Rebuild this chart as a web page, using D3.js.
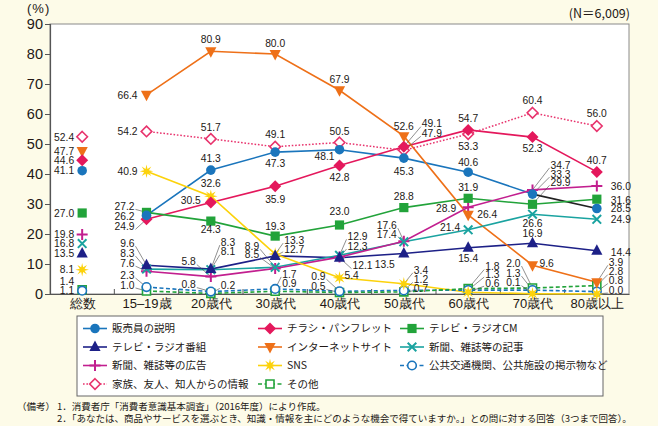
<!DOCTYPE html>
<html><head><meta charset="utf-8">
<script src="https://cdn.jsdelivr.net/npm/d3@7"></script>
<style>
html,body{margin:0;padding:0;background:#fdfbe8;}
svg{display:block;font-family:"Noto Sans CJK JP","Noto Sans",sans-serif;}
</style></head>
<body><svg id="c" width="658" height="426"></svg>
<script>
// ---------- data ----------
const categories = ["総数","15–19歳","20歳代","30歳代","40歳代","50歳代","60歳代","70歳代","80歳以上"];
const yTicks = [0,10,20,30,40,50,60,70,80,90];
const seriesNames = ["販売員の説明","チラシ・パンフレット","テレビ・ラジオCM","テレビ・ラジオ番組","インターネットサイト","新聞、雑誌等の記事","新聞、雑誌等の広告","SNS","家族、友人、知人からの情報","公共交通機関、公共施設の掲示物など","その他"];
const salesStaff    = [41.1,26.2,41.3,47.3,48.1,45.3,40.6,33.3,28.5];
const flyers        = [44.6,24.9,30.5,35.9,42.8,49.1,54.7,52.3,40.7];
const tvCM          = [27.0,27.2,24.3,19.3,23.0,28.8,31.9,29.9,31.6];
const tvProgram     = [13.5,9.6,8.3,12.7,12.1,13.5,15.4,16.9,14.4];
const internet      = [47.7,66.4,80.9,80.0,67.9,52.6,26.4,9.6,3.9];
const pressArticle  = [16.8,8.3,8.1,8.9,12.9,17.4,21.4,26.6,24.9];
const pressAd       = [19.8,7.6,5.8,8.5,12.3,17.6,28.9,34.7,36.0];
const sns           = [8.1,40.9,32.6,13.3,5.4,3.4,0.6,0.1,0.0];
const family        = [52.4,54.2,51.7,49.1,50.5,47.9,53.3,60.4,56.0];
const publicPosters = [1.1,2.3,0.8,1.7,0.9,1.2,1.3,1.3,0.8];
const other         = [1.4,1.0,0.2,0.9,0.5,0.7,1.8,2.0,2.8];
const seriesValues = [salesStaff,flyers,tvCM,tvProgram,internet,pressArticle,pressAd,sns,family,publicPosters,other];

// ---------- styles ----------
const styles = [
  {color:"#1a75bc", marker:"circle"},
  {color:"#e4185c", marker:"diamond"},
  {color:"#22a33a", marker:"square"},
  {color:"#1d2087", marker:"triUp"},
  {color:"#ee7018", marker:"triDown"},
  {color:"#1aa3a0", marker:"x"},
  {color:"#c21f8f", marker:"plus"},
  {color:"#fcd20b", marker:"star"},
  {color:"#e8336d", marker:"openDiamond", dash:"1.6,1.8"},
  {color:"#1a75bc", marker:"openCircle", dash:"4,2.5"},
  {color:"#22a33a", marker:"openSquare", dash:"4,2.5"}
];
// label placement: anchor(e/m/s) dx,dy  [L = leader line]
const labelLayout = [
  ["e-8,0","e-12,1","m0,-12","m0,11","e-5,7","m0,13","m0,-10","s18,-20L","s14,0"],
  ["e-8,0","e-12,7L","e-10,-2","m0,13","m0,12","s18,-23L","m0,-12","m0,11","m0,-12"],
  ["e-8,0","e-12,-6L","m0,8","m0,-10","m0,-14","m0,-11","m0,-11","s18,-22L","s14,1"],
  ["e-8,0","e-12,-22L","s10,-27L","s9,-7L","s13,8L","e-9,11","m0,10","m0,-10","s14,1"],
  ["e-8,0","e-9,0","m0,-12","m0,-11","m0,-11","m0,-10","s9,-1","s7,-2","s12,-20L"],
  ["e-8,0","e-12,-16L","s10,-18L","e-16,-21L","s8,-19L","e-7,-8L","e-8,-3","m0,9","s14,0"],
  ["e-8,0","e-12,-8L","e-15,-15L","e-16,-14L","s8,-11L","e-7,-16L","e-12,1","s18,-25L","s14,0"],
  ["e-8,0","e-9,0","m0,-13","s9,-14L","s5,-3","s10,-14L","s17,-9L","e-12,-11L","s12,-4L"],
  ["e-8,0","e-9,0","m0,-12","m0,-12","m0,-11","s18,-17L","m0,12","m0,-13","m0,-13"],
  ["e-8,0","e-12,-12L","e-15,-7L","s7,-15L","e-14,-15L","s10,-11L","s17,-16L","e-12,-17L","s12,-11L"],
  ["e-8,-9","e-12,-6L","s10,-8L","s7,-8L","e-14,-6L","s10,-4L","s17,-22L","e-12,-25L","s12,-14L"]
];
const segmentOverrides = [{series:0, from:7, color:"#222"}];

// ---------- layout ----------
const svg = d3.select("#c");
const L=50, R=629, T=24, B=294;
const x = d3.scalePoint().domain(categories).range([L,R]).padding(0.5);
const xb = d3.scaleBand().domain(categories).range([L,R]);
const y = d3.scaleLinear().domain([0,90]).range([B,T]);
const ink = "#231815";

svg.append("rect").attr("x",L).attr("y",T).attr("width",R-L).attr("height",B-T)
  .attr("fill","#fff").attr("stroke","#8a8a8a").attr("stroke-width",1);

// y axis
const ya = svg.append("g").attr("transform",`translate(${L},0)`)
  .call(d3.axisLeft(y).tickValues(yTicks).tickSize(5).tickPadding(2));
ya.select(".domain").attr("stroke","#555").attr("stroke-width",1.2);
ya.selectAll(".tick line").attr("stroke","#555");
ya.selectAll("text").attr("font-size",14.5).attr("fill",ink).attr("font-family","Liberation Sans, Arial, sans-serif");

// x axis
const xa = svg.append("g").attr("transform",`translate(0,${B})`)
  .call(d3.axisBottom(x).tickSize(0).tickPadding(5));
xa.select(".domain").attr("stroke","#555").attr("stroke-width",1.2);
xa.selectAll("text").attr("font-size",13).attr("fill",ink);
svg.append("g").selectAll("line").data(categories.slice(1)).join("line")
  .attr("x1",d=>xb(d)).attr("x2",d=>xb(d)).attr("y1",B).attr("y2",B-5)
  .attr("stroke","#555");

svg.append("text").attr("x",27).attr("y",13).attr("font-size",13).attr("fill",ink)
  .attr("font-family","Liberation Sans, Arial, sans-serif").attr("letter-spacing",1).text("(%)");
svg.append("text").attr("x",630).attr("y",18).attr("text-anchor","end").attr("font-size",12.5)
  .attr("fill",ink).text("(N＝6,009)");

// marker path generator
function markerPath(type){
  switch(type){
    case "circle": case "openCircle": return d3.symbol(d3.symbolCircle, type==="circle"?72:58)();
    case "diamond": case "openDiamond": {const h=type==="diamond"?6:5.3; return `M0,${-h}L${h},0L0,${h}L${-h},0Z`;}
    case "square": case "openSquare": {const h=type==="square"?4.6:4; return `M${-h},${-h}H${h}V${h}H${-h}Z`;}
    case "triUp": return "M0,-6.5L5.6,4L-5.6,4Z";
    case "triDown": return "M0,6.5L5.6,-4L-5.6,-4Z";
    case "plus": return "M-5.5,0H5.5M0,-5.5V5.5";
    case "x": return "M-4.3,-4.3L4.3,4.3M-4.3,4.3L4.3,-4.3";
    case "star": {let p=""; for(let k=0;k<16;k++){const a=k*Math.PI/8-Math.PI/2; const r=k%2?2.6:6.8; p+=(k?"L":"M")+(r*Math.cos(a)).toFixed(2)+","+(r*Math.sin(a)).toFixed(2);} return p+"Z";}
  }
}
function drawMarker(g,type,color,cx,cy){
  const p=g.append("path").attr("d",markerPath(type)).attr("transform",`translate(${cx},${cy})`);
  if(type==="plus"||type==="x") p.attr("fill","none").attr("stroke",color).attr("stroke-width",2);
  else if(type.startsWith("open")) p.attr("fill","#fff").attr("stroke",color).attr("stroke-width",1.6);
  else p.attr("fill",color);
}

// lines
const lineG = svg.append("g");
const line = d3.line().x(d=>x(d.c)).y(d=>y(d.v));
seriesValues.forEach((vals,s)=>{
  const st=styles[s];
  const pts = vals.map((v,i)=>({c:categories[i],v,i})).slice(1);
  const ov = segmentOverrides.find(o=>o.series===s);
  const main = ov ? pts.filter(p=>p.i<=ov.from) : pts;
  lineG.append("path").attr("d",line(main)).attr("fill","none").attr("stroke",st.color)
    .attr("stroke-width",st.dash&&st.marker==="openDiamond"?1.5:1.6).attr("stroke-dasharray",st.dash||null);
  if(ov){
    lineG.append("path").attr("d",line(pts.filter(p=>p.i>=ov.from))).attr("fill","none")
      .attr("stroke",ov.color).attr("stroke-width",1.6);
  }
});

// leader lines + labels
const leadG = svg.append("g"), markG = svg.append("g"), labG = svg.append("g");
seriesValues.forEach((vals,s)=>{
  vals.forEach((v,i)=>{
    const spec = labelLayout[s][i];
    const m = spec.match(/^([ems])(-?[\d.]+),(-?[\d.]+)(L?)$/);
    const a = m[1], dx=+m[2], dy=+m[3], lead=m[4]==="L";
    const mx=x(categories[i]), my=y(v);
    const tx=mx+dx, ty=my+dy;
    if(lead){
      const sx = a==="e"? tx+1 : tx-1;
      leadG.append("line").attr("x1",sx).attr("y1",ty+3).attr("x2",mx).attr("y2",my)
        .attr("stroke","#444").attr("stroke-width",0.6);
    }
    labG.append("text").attr("x",tx).attr("y",ty+3.7)
      .attr("text-anchor",a==="e"?"end":a==="m"?"middle":"start")
      .attr("font-size",10.3).attr("fill",ink).attr("font-family","Liberation Sans, Arial, sans-serif")
      .text(v.toFixed(1));
  });
});
// markers drawn in reverse so first series on top
for(let s=seriesValues.length-1;s>=0;s--){
  seriesValues[s].forEach((v,i)=>drawMarker(markG,styles[s].marker,styles[s].color,x(categories[i]),y(v)));
}

// legend
svg.append("rect").attr("x",77).attr("y",316).attr("width",526).attr("height",80)
  .attr("fill","#fff").attr("stroke","#666").attr("stroke-width",1);
const legendOrder = [[0,3,6,8],[1,4,7,10],[2,5,9]];
const colX = [83,258,400], rowY=[328.5,347,365.5,384];
legendOrder.forEach((col,c)=>col.forEach((s,r)=>{
  const st=styles[s], x0=colX[c], yy=rowY[r];
  svg.append("line").attr("x1",x0).attr("x2",x0+24).attr("y1",yy).attr("y2",yy)
    .attr("stroke",st.color).attr("stroke-width",1.6).attr("stroke-dasharray",st.dash||null);
  drawMarker(svg,st.marker,st.color,x0+12,yy);
  svg.append("text").attr("x",x0+29).attr("y",yy+3.8).attr("font-size",10.5).attr("fill",ink).text(seriesNames[s]);
}));

// notes
const notes = svg.append("g").attr("font-size",9.5).attr("fill",ink);
notes.append("text").attr("x",17).attr("y",410).text("（備考）");
notes.append("text").attr("x",57).attr("y",410).text("1．消費者庁「消費者意識基本調査」（2016年度）により作成。");
notes.append("text").attr("x",57).attr("y",422).text("2．「あなたは、商品やサービスを選ぶとき、知識・情報を主にどのような機会で得ていますか。」との問に対する回答（3つまで回答）。");
</script></body></html>
